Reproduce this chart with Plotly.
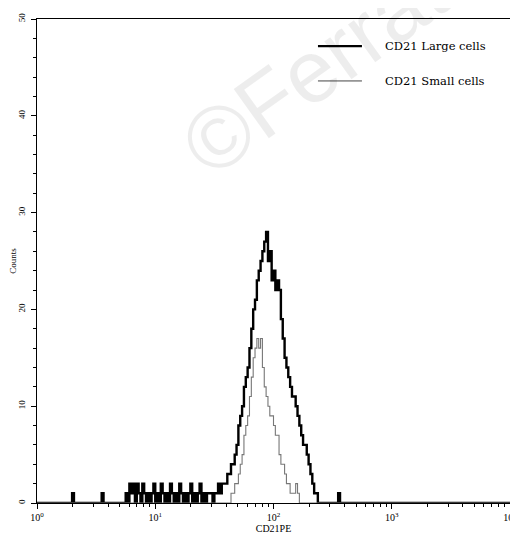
import plotly.graph_objects as go

# Histogram channels: 64 channels per decade (channel c -> 10**(c/64))
large_channels = [19, 35, 48, 50, 51, 52, 54, 55, 57, 58, 60, 62, 63, 65, 67, 68, 70, 72, 73, 75, 77, 78, 80, 82, 83, 85, 87, 88, 90, 92, 93,
                  94, 96, 97, 98, 99, 100, 101, 102, 103, 104, 105, 106, 107, 108, 109, 110, 111, 112, 113, 114, 115, 116, 117, 118, 119,
                  120, 121, 122, 123, 124, 125, 126, 127, 128, 129, 130, 131, 132, 133, 134, 135, 136, 137, 138, 139, 140, 141, 142, 143,
                  144, 145, 146, 147, 148, 149, 150, 151, 163]
large_counts = [1, 1, 1, 2, 1, 2, 2, 1, 2, 1, 1, 1, 2, 1, 2, 1, 1, 2, 1, 1, 2, 1, 1, 1, 2, 1, 1, 2, 1, 1, 1,
                1, 1, 1, 2, 1, 2, 2, 2, 3, 3, 4, 4, 5, 6, 8, 9, 10, 12, 13, 14, 16, 18, 20, 21, 23,
                24, 25, 26, 27, 28, 25, 26, 23, 24, 22, 23, 22, 19, 17, 15, 14, 13, 12, 11, 11, 10, 9, 8, 7,
                6, 6, 5, 4, 3, 2, 1, 1, 1]

small_channels = [105, 106, 107, 108, 109, 110, 111, 112, 113, 114, 115, 116, 117, 118, 119, 120, 121, 122, 123, 124,
                  125, 126, 127, 128, 129, 130, 131, 132, 133, 134, 135, 136, 137, 138, 139, 140, 141]
small_counts = [1, 1, 2, 2, 3, 4, 5, 7, 8, 9, 11, 13, 15, 16, 17, 16, 17, 14, 12, 11,
                10, 9, 9, 8, 7, 7, 5, 4, 4, 3, 2, 2, 1, 1, 1, 2, 1]

series_names = ["CD21 Large cells", "CD21 Small cells"]
x_tick_vals = [1, 10, 100, 1000, 10000]
x_tick_text = ["10<sup>0</sup>", "10<sup>1</sup>", "10<sup>2</sup>", "10<sup>3</sup>", "10<sup>4</sup>"]
y_tick_vals = [0, 10, 20, 30, 40, 50]
n_channels = 256
per_decade = 64

LARGE_COLOR = "black"
SMALL_COLOR = "#777777"


def full_hist(chs, cnts):
    arr = [0] * n_channels
    for c, v in zip(chs, cnts):
        arr[c] = v
    xs = [10 ** (c / per_decade) for c in range(n_channels)] + [10 ** 4]
    return xs, arr + [0]


fig = go.Figure()
xs_s, ys_s = full_hist(small_channels, small_counts)
xs_l, ys_l = full_hist(large_channels, large_counts)
fig.add_trace(go.Scatter(x=xs_l, y=ys_l, mode="lines", line=dict(color=LARGE_COLOR, width=2.4, shape="hv"),
                         name=series_names[0], showlegend=False))
fig.add_trace(go.Scatter(x=xs_s, y=ys_s, mode="lines", line=dict(color=SMALL_COLOR, width=1.1, shape="hv"),
                         name=series_names[1], showlegend=False))

serif = "Liberation Serif"
legend_y = [0.944, 0.872]
shapes = []
annotations = []
for name, ly, col, w in zip(series_names, legend_y, [LARGE_COLOR, "#444444"], [2.2, 1.0]):
    shapes.append(dict(type="line", xref="paper", yref="paper", x0=0.594, x1=0.687, y0=ly, y1=ly,
                       line=dict(color=col, width=w)))
    annotations.append(dict(text=name, xref="paper", yref="paper", x=0.731, y=ly, xanchor="left",
                            yanchor="middle", showarrow=False,
                            font=dict(family="DejaVu Serif", size=11.5, color="black")))
annotations.append(dict(text="©Ferrata", xref="paper", yref="paper", x=0.630, y=0.928,
                        xanchor="center", yanchor="middle", showarrow=False, textangle=-35.6,
                        font=dict(family="Liberation Sans", size=88, color="rgba(0,0,0,0.07)")))

# The page body adds an 8px offset, so the figure is sized to fit the window from there.
fig.update_layout(
    width=510, height=534,
    margin=dict(l=29, r=8, t=11, b=39),
    paper_bgcolor="white", plot_bgcolor="white",
    font=dict(family=serif, size=9, color="black"),
    showlegend=False,
    shapes=shapes,
    annotations=annotations,
)
fig.update_xaxes(type="log", range=[0, 4], tickvals=x_tick_vals, ticktext=x_tick_text, automargin=False,
                 ticks="outside", ticklen=5, tickcolor="black", showgrid=False, zeroline=False,
                 showline=True, linecolor="black", linewidth=1, mirror=True,
                 tickfont=dict(family=serif, size=10),
                 minor=dict(ticks="outside", ticklen=3, tickcolor="black",
                            tickvals=[m * 10 ** d for d in range(4) for m in range(2, 10)]),
                 title=dict(text="CD21PE", font=dict(family=serif, size=10), standoff=2))
fig.update_yaxes(range=[0, 50], tickvals=y_tick_vals, tickangle=-90, automargin=False,
                 ticks="outside", ticklen=5, tickcolor="black", showgrid=False, zeroline=False,
                 showline=True, linecolor="black", linewidth=1, mirror=True,
                 ticklabelstandoff=2,
                 minor=dict(ticks="outside", ticklen=3, tickcolor="black", dtick=2),
                 title=dict(text="Counts", font=dict(family=serif, size=9), standoff=4))
fig.write_html("out.html")
